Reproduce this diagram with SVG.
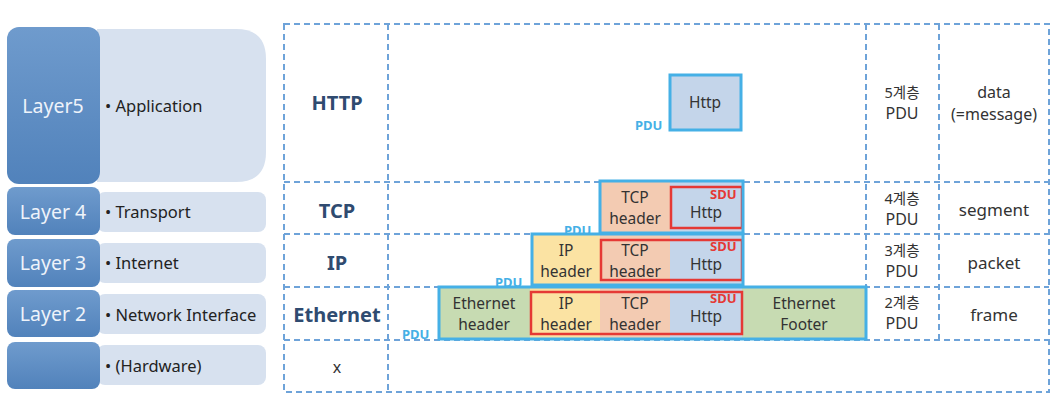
<svg xmlns="http://www.w3.org/2000/svg" width="1060" height="414" viewBox="0 0 1060 414">
<defs>
<linearGradient id="dk" x1="0" y1="0" x2="0" y2="1">
<stop offset="0" stop-color="#6f9bcd"/>
<stop offset="1" stop-color="#5182bb"/>
</linearGradient>
<style>
.t{font-family:"Noto Sans","Noto Sans CJK KR",sans-serif;}
.dk{fill:url(#dk);}
.lt{fill:#d7e1ef;}
.lyr{font-size:19.5px;fill:#eef3fa;text-anchor:middle;}
.nm{font-size:16.5px;fill:#222;}
.grid{stroke:#6ea3d9;stroke-width:2;stroke-dasharray:6 4;fill:none;}
.proto{font-size:20px;font-weight:bold;fill:#2f4b70;text-anchor:middle;}
.cell{font-size:16px;fill:#333;text-anchor:middle;}
.ko{font-size:14.5px;}
.big{font-size:17px;}
.pdu{fill:none;stroke:#45b0e6;stroke-width:3;}
.sdu{fill:none;stroke:#e53935;stroke-width:2.5;}
.pl{font-size:13px;font-weight:bold;fill:#45b0e6;}
.sl{font-size:13px;font-weight:bold;fill:#e53935;}
.seg{font-size:15.5px;fill:#333;text-anchor:middle;}
.cg{fill:#c7dbb2;}
.cy{fill:#fbe3a3;}
.co{fill:#f3cbb2;}
.cb{fill:#c4d5ea;}
</style>
</defs>
<rect width="1060" height="414" fill="#fff"/>

<g id="layer5">
<path class="lt" d="M97 29 H236 Q266 29 266 59 V152 Q266 182 236 182 H97 Z"/>
<rect class="dk" x="7" y="27" width="93" height="157" rx="12"/>
<text class="t lyr" x="53" y="113">Layer5</text>
<text class="t nm" x="105" y="112">• Application</text>
</g>
<g id="layer4">
<rect class="lt" x="97" y="192" width="169" height="40" rx="8"/>
<rect class="dk" x="7" y="187" width="93" height="48" rx="8"/>
<text class="t lyr" x="53" y="219">Layer 4</text>
<text class="t nm" x="105" y="218">• Transport</text>
</g>
<g id="layer3">
<rect class="lt" x="97" y="243" width="169" height="40" rx="8"/>
<rect class="dk" x="7" y="239" width="93" height="48" rx="8"/>
<text class="t lyr" x="53" y="270">Layer 3</text>
<text class="t nm" x="105" y="269">• Internet</text>
</g>
<g id="layer2">
<rect class="lt" x="97" y="294" width="169" height="40" rx="8"/>
<rect class="dk" x="7" y="290" width="93" height="47" rx="8"/>
<text class="t lyr" x="53" y="321">Layer 2</text>
<text class="t nm" x="105" y="321">• Network Interface</text>
</g>
<g id="hardware">
<rect class="lt" x="97" y="345" width="169" height="40" rx="8"/>
<rect class="dk" x="7" y="342" width="93" height="47" rx="8"/>
<text class="t nm" x="105" y="372">• (Hardware)</text>
</g>

<g id="grid">
<rect class="grid" x="284" y="24" width="765" height="368"/>
<path class="grid" d="M388 24 V392 M866 24 V340 M939 24 V340 M284 182 H1049 M284 234 H1049 M284 287 H1049 M284 340 H1049"/>
</g>

<g id="row-labels">
<text class="t proto" x="337" y="110">HTTP</text>
<text class="t proto" x="337" y="218">TCP</text>
<text class="t proto" x="337" y="270">IP</text>
<text class="t proto" x="337" y="322">Ethernet</text>
<text class="t cell" x="337" y="373">x</text>
</g>

<g id="pdu-names">
<text class="t cell ko" x="902" y="98">5계층</text>
<text class="t cell" x="902" y="119">PDU</text>
<text class="t cell" x="994" y="98">data</text>
<text class="t cell" x="994" y="120">(=message)</text>
<text class="t cell ko" x="902" y="204">4계층</text>
<text class="t cell" x="902" y="225">PDU</text>
<text class="t cell big" x="994" y="216">segment</text>
<text class="t cell ko" x="902" y="256">3계층</text>
<text class="t cell" x="902" y="277">PDU</text>
<text class="t cell big" x="994" y="269">packet</text>
<text class="t cell ko" x="902" y="308">2계층</text>
<text class="t cell" x="902" y="329">PDU</text>
<text class="t cell big" x="994" y="321">frame</text>
</g>

<g id="http-pdu">
<rect class="cb" x="670" y="75" width="71" height="55"/>
<rect class="pdu" x="670" y="75" width="71" height="55"/>
<text class="t seg" x="705" y="108">Http</text>
<text class="t pl" x="635" y="130">PDU</text>
</g>

<g id="tcp-pdu">
<rect class="co" x="600" y="181" width="70" height="52"/>
<rect class="cb" x="670" y="181" width="73" height="52"/>
<text class="t seg" x="635" y="203">TCP</text>
<text class="t seg" x="635" y="224">header</text>
<text class="t seg" x="706" y="218">Http</text>
<rect class="sdu" x="671" y="187" width="71" height="41"/>
<text class="t sl" x="710" y="199">SDU</text>
<rect class="pdu" x="600" y="181" width="143" height="52"/>
<text class="t pl" x="564" y="235">PDU</text>
</g>

<g id="ip-pdu">
<rect class="cy" x="532" y="234" width="68" height="51"/>
<rect class="co" x="600" y="234" width="70" height="51"/>
<rect class="cb" x="670" y="234" width="73" height="51"/>
<text class="t seg" x="566" y="256">IP</text>
<text class="t seg" x="566" y="277">header</text>
<text class="t seg" x="635" y="256">TCP</text>
<text class="t seg" x="635" y="277">header</text>
<text class="t seg" x="706" y="270">Http</text>
<rect class="sdu" x="601" y="240" width="141" height="40"/>
<text class="t sl" x="710" y="251">SDU</text>
<rect class="pdu" x="532" y="234" width="211" height="51"/>
<text class="t pl" x="495" y="287">PDU</text>
</g>

<g id="ethernet-pdu">
<rect class="cg" x="439" y="287" width="91" height="52"/>
<rect class="cy" x="530" y="287" width="70" height="52"/>
<rect class="co" x="600" y="287" width="70" height="52"/>
<rect class="cb" x="670" y="287" width="72" height="52"/>
<rect class="cg" x="742" y="287" width="124" height="52"/>
<text class="t seg" x="484" y="309">Ethernet</text>
<text class="t seg" x="484" y="330">header</text>
<text class="t seg" x="566" y="309">IP</text>
<text class="t seg" x="566" y="330">header</text>
<text class="t seg" x="635" y="309">TCP</text>
<text class="t seg" x="635" y="330">header</text>
<text class="t seg" x="706" y="322">Http</text>
<text class="t seg" x="804" y="309">Ethernet</text>
<text class="t seg" x="804" y="330">Footer</text>
<rect class="sdu" x="531" y="292" width="211" height="42"/>
<text class="t sl" x="710" y="303">SDU</text>
<rect class="pdu" x="439" y="287" width="427" height="52"/>
<text class="t pl" x="402" y="339">PDU</text>
</g>
</svg>
